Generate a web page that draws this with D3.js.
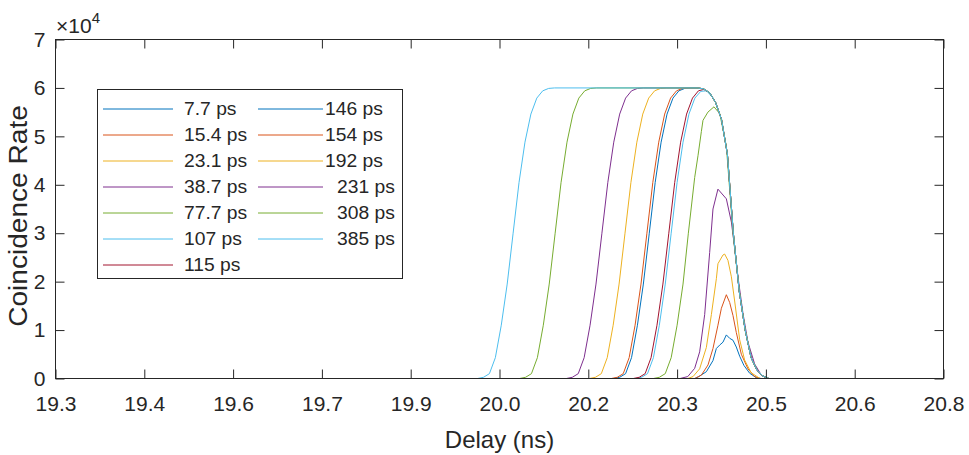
<!DOCTYPE html>
<html><head><meta charset="utf-8">
<script src="https://cdn.jsdelivr.net/npm/d3@7"></script>
<style>body{margin:0;background:#fff}svg{display:block}</style>
</head><body>
<svg id="chart" width="969" height="455"></svg>
<script>
// ---- data (delay in ns, coincidence rate) ----
const xTickValues = [19.3,19.45,19.6,19.75,19.9,20.05,20.2,20.35,20.5,20.65,20.8];
const xTickLabels = ["19.3","19.4","19.6","19.7","19.9","20.0","20.2","20.3","20.5","20.6","20.8"];
const yTickValues = [0,10000,20000,30000,40000,50000,60000,70000];
const yTickLabels = ["0","1","2","3","4","5","6","7"];
const seriesLabels = ["7.7 ps","15.4 ps","23.1 ps","38.7 ps","77.7 ps","107 ps","115 ps","146 ps","154 ps","192 ps","231 ps","308 ps","385 ps"];

const s7_7 = [[19.3,0],[20.38,0],[20.386,350],[20.3994,1400],[20.4106,3700],[20.4163,6200],[20.4219,6900],[20.4275,7500],[20.4332,9000],[20.4388,8300],[20.4444,7900],[20.45,6500],[20.4557,4600],[20.4629,2700],[20.4725,1100],[20.4839,150],[20.492,0],[20.8,0]];
const s15_4 = [[19.3,0],[20.38,0],[20.391,700],[20.4022,2800],[20.4106,6200],[20.419,11000],[20.4248,14500],[20.4332,17300],[20.4388,15700],[20.4444,13000],[20.45,9500],[20.4585,5000],[20.4697,2000],[20.481,400],[20.49,0],[20.8,0]];
const s23_1 = [[19.3,0],[20.368,0],[20.3769,400],[20.3881,2000],[20.3994,6400],[20.4079,13200],[20.4163,20600],[20.419,23700],[20.4275,25500],[20.4303,25700],[20.4359,24400],[20.4417,21000],[20.4472,16000],[20.4557,8000],[20.4641,3800],[20.475,1200],[20.49,0],[20.8,0]];
const s38_7 = [[19.3,0],[20.355,0],[20.368,400],[20.3797,2100],[20.3881,5500],[20.3966,13200],[20.405,26000],[20.4106,35000],[20.419,39100],[20.4332,37100],[20.4417,32300],[20.4472,27000],[20.4528,21000],[20.4612,13500],[20.4697,7500],[20.481,3000],[20.4923,700],[20.502,0],[20.8,0]];
const s77_7 = [[19.3,0],[20.31,0],[20.32,250],[20.33,1000],[20.34,4300],[20.35,11000],[20.36,19500],[20.369,30000],[20.3797,41500],[20.3853,46000],[20.391,51000],[20.3937,53300],[20.402,55000],[20.4123,56100],[20.422,54700],[20.4332,48000],[20.4444,30000],[20.455,18000],[20.465,10000],[20.475,4300],[20.485,1700],[20.495,500],[20.505,0],[20.8,0]];
const s107 = [[19.3,0],[20.28,0],[20.29,250],[20.30,1000],[20.31,4300],[20.32,11000],[20.33,19500],[20.34,30000],[20.35,40500],[20.36,48800],[20.37,54600],[20.38,57900],[20.39,59300],[20.40,59400],[20.41,58000],[20.415,57000],[20.425,53500],[20.435,46300],[20.445,30000],[20.455,18000],[20.465,10000],[20.475,4300],[20.485,1700],[20.495,500],[20.505,0],[20.8,0]];
const s115 = [[19.3,0],[20.276,0],[20.286,250],[20.296,1000],[20.306,4300],[20.316,11000],[20.326,19500],[20.336,30000],[20.346,40500],[20.356,48800],[20.366,54600],[20.376,57900],[20.386,59400],[20.395,59700],[20.405,59000],[20.415,57000],[20.425,53500],[20.435,46300],[20.445,30000],[20.455,18000],[20.465,10000],[20.475,4300],[20.485,1700],[20.495,500],[20.505,0],[20.8,0]];
const s146 = [[19.3,0],[20.243,0],[20.253,250],[20.263,1000],[20.273,4300],[20.283,11000],[20.293,19500],[20.303,30000],[20.313,40500],[20.323,48800],[20.333,54600],[20.343,57900],[20.353,59400],[20.363,59900],[20.373,60000],[20.385,60000],[20.395,59800],[20.405,59000],[20.415,57000],[20.425,53500],[20.435,46300],[20.445,30000],[20.455,18000],[20.465,10000],[20.475,4300],[20.485,1700],[20.495,500],[20.505,0],[20.8,0]];
const s154 = [[19.3,0],[20.239,0],[20.249,250],[20.259,1000],[20.269,4300],[20.279,11000],[20.289,19500],[20.299,30000],[20.309,40500],[20.319,48800],[20.329,54600],[20.339,57900],[20.349,59400],[20.359,59900],[20.369,60000],[20.385,60000],[20.395,59800],[20.405,59000],[20.415,57000],[20.425,53500],[20.435,46300],[20.445,30000],[20.455,18000],[20.465,10000],[20.475,4300],[20.485,1700],[20.495,500],[20.505,0],[20.8,0]];
const s192 = [[19.3,0],[20.202,0],[20.212,250],[20.222,1000],[20.232,4300],[20.242,11000],[20.252,19500],[20.262,30000],[20.272,40500],[20.282,48800],[20.292,54600],[20.302,57900],[20.312,59400],[20.322,59900],[20.332,60000],[20.385,60000],[20.395,59800],[20.405,59000],[20.415,57000],[20.425,53500],[20.435,46300],[20.445,30000],[20.455,18000],[20.465,10000],[20.475,4300],[20.485,1700],[20.495,500],[20.505,0],[20.8,0]];
const s231 = [[19.3,0],[20.163,0],[20.173,250],[20.183,1000],[20.193,4300],[20.203,11000],[20.213,19500],[20.223,30000],[20.233,40500],[20.243,48800],[20.253,54600],[20.263,57900],[20.273,59400],[20.283,59900],[20.293,60000],[20.385,60000],[20.395,59800],[20.405,59000],[20.415,57000],[20.425,53500],[20.435,46300],[20.445,30000],[20.455,18000],[20.465,10000],[20.475,4300],[20.485,1700],[20.495,500],[20.505,0],[20.8,0]];
const s308 = [[19.3,0],[20.084,0],[20.094,250],[20.104,1000],[20.114,4300],[20.124,11000],[20.134,19500],[20.144,30000],[20.154,40500],[20.164,48800],[20.174,54600],[20.184,57900],[20.194,59400],[20.204,59900],[20.214,60000],[20.385,60000],[20.395,59800],[20.405,59000],[20.415,57000],[20.425,53500],[20.435,46300],[20.445,30000],[20.455,18000],[20.465,10000],[20.475,4300],[20.485,1700],[20.495,500],[20.505,0],[20.8,0]];
const s385 = [[19.3,0],[20.013,0],[20.023,250],[20.033,1000],[20.043,4300],[20.053,11000],[20.063,19500],[20.073,30000],[20.083,40500],[20.093,48800],[20.103,54600],[20.113,57900],[20.123,59400],[20.133,59900],[20.143,60000],[20.385,60000],[20.395,59800],[20.405,59000],[20.415,57000],[20.425,53500],[20.435,46300],[20.445,30000],[20.455,18000],[20.465,10000],[20.475,4300],[20.485,1700],[20.495,500],[20.505,0],[20.8,0]];

const seriesData = [s7_7,s15_4,s23_1,s38_7,s77_7,s107,s115,s146,s154,s192,s231,s308,s385];

// ---- styles ----
const palette = ["#0072BD","#D95319","#EDB120","#7E2F8E","#77AC30","#4DBEEE","#A2142F"];
const axisColor = "#262626";
const font = "'Liberation Sans', Arial, Helvetica, sans-serif";

const svg = d3.select("#chart");
const L = 55.5, R = 943.5, T = 39.5, B = 378.5;
const x = d3.scaleLinear().domain([19.3, 20.8]).range([L, R]);
const y = d3.scaleLinear().domain([0, 70000]).range([B, T]);

function stretch(sel, f) {
  sel.each(function() {
    const n = this.getComputedTextLength();
    d3.select(this).attr("textLength", n * f).attr("lengthAdjust", "spacingAndGlyphs");
  });
}

svg.append("defs").append("clipPath").attr("id", "clip")
  .append("rect").attr("x", L).attr("y", T).attr("width", R - L).attr("height", B - T);

const line = d3.line().x(d => x(d[0])).y(d => y(d[1]));
const plot = svg.append("g").attr("clip-path", "url(#clip)");
seriesData.forEach((s, i) => {
  plot.append("path").datum(s).attr("d", line)
    .attr("fill", "none").attr("stroke", palette[i % palette.length])
    .attr("stroke-width", 1).attr("stroke-linejoin", "round");
});

const tickLen = 9;
const xAxis = svg.append("g").attr("transform", `translate(0,${B})`)
  .call(d3.axisBottom(x).tickValues(xTickValues)
    .tickFormat((d, i) => xTickLabels[i]).tickSizeInner(-tickLen).tickSizeOuter(0).tickPadding(18));
const xTop = svg.append("g").attr("transform", `translate(0,${T})`)
  .call(d3.axisTop(x).tickValues(xTickValues).tickFormat("").tickSizeInner(-tickLen).tickSizeOuter(0));
const yAxis = svg.append("g").attr("transform", `translate(${L},0)`)
  .call(d3.axisLeft(y).tickValues(yTickValues)
    .tickFormat((d, i) => yTickLabels[i]).tickSizeInner(-tickLen).tickSizeOuter(0).tickPadding(10));
const yRight = svg.append("g").attr("transform", `translate(${R},0)`)
  .call(d3.axisRight(y).tickValues(yTickValues).tickFormat("").tickSizeInner(-tickLen).tickSizeOuter(0));

[xAxis, xTop, yAxis, yRight].forEach(g => {
  g.select(".domain").remove();
  g.selectAll(".tick line").attr("stroke", axisColor).attr("stroke-width", 1);
  g.selectAll(".tick text").attr("fill", axisColor).attr("font-family", font).attr("font-size", 21);
});

svg.append("rect").attr("x", L).attr("y", T).attr("width", R - L).attr("height", B - T)
  .attr("fill", "none").attr("stroke", axisColor).attr("stroke-width", 1);

const ex = svg.append("text").attr("x", 56).attr("y", 33).attr("fill", axisColor)
  .attr("font-family", font).attr("font-size", 21);
ex.append("tspan").text("\u00d710");
ex.append("tspan").attr("dy", -10).attr("font-size", 15).text("4");

const xl = svg.append("text").attr("x", (L + R) / 2).attr("y", 448)
  .attr("text-anchor", "middle").attr("fill", axisColor)
  .attr("font-family", font).attr("font-size", 24).text("Delay (ns)");
const yl = svg.append("text").attr("transform", "translate(27,216) rotate(-90)")
  .attr("text-anchor", "middle").attr("fill", axisColor)
  .attr("font-family", font).attr("font-size", 26).text("Coincidence Rate");
stretch(yl, 1.08);

const lg = svg.append("g");
lg.append("rect").attr("x", 97.5).attr("y", 89.5).attr("width", 305).attr("height", 189)
  .attr("fill", "#fff").attr("stroke", axisColor).attr("stroke-width", 1);
seriesLabels.forEach((lab, i) => {
  const col = i < 7 ? 0 : 1;
  const row = col === 0 ? i : i - 7;
  const cy = 109 + row * 26;
  const x1 = col === 0 ? 103 : 258, x2 = col === 0 ? 173 : 323;
  const tx = col === 0 ? 184 : (row < 3 ? 325 : 337);
  lg.append("line").attr("x1", x1).attr("x2", x2).attr("y1", cy).attr("y2", cy)
    .attr("stroke", palette[i % palette.length]).attr("stroke-width", 1);
  const t = lg.append("text").attr("x", tx).attr("y", cy).attr("dy", "0.36em")
    .attr("fill", axisColor).attr("font-family", font).attr("font-size", 18).text(lab);
  stretch(t, 1.07);
});
</script>
</body></html>
